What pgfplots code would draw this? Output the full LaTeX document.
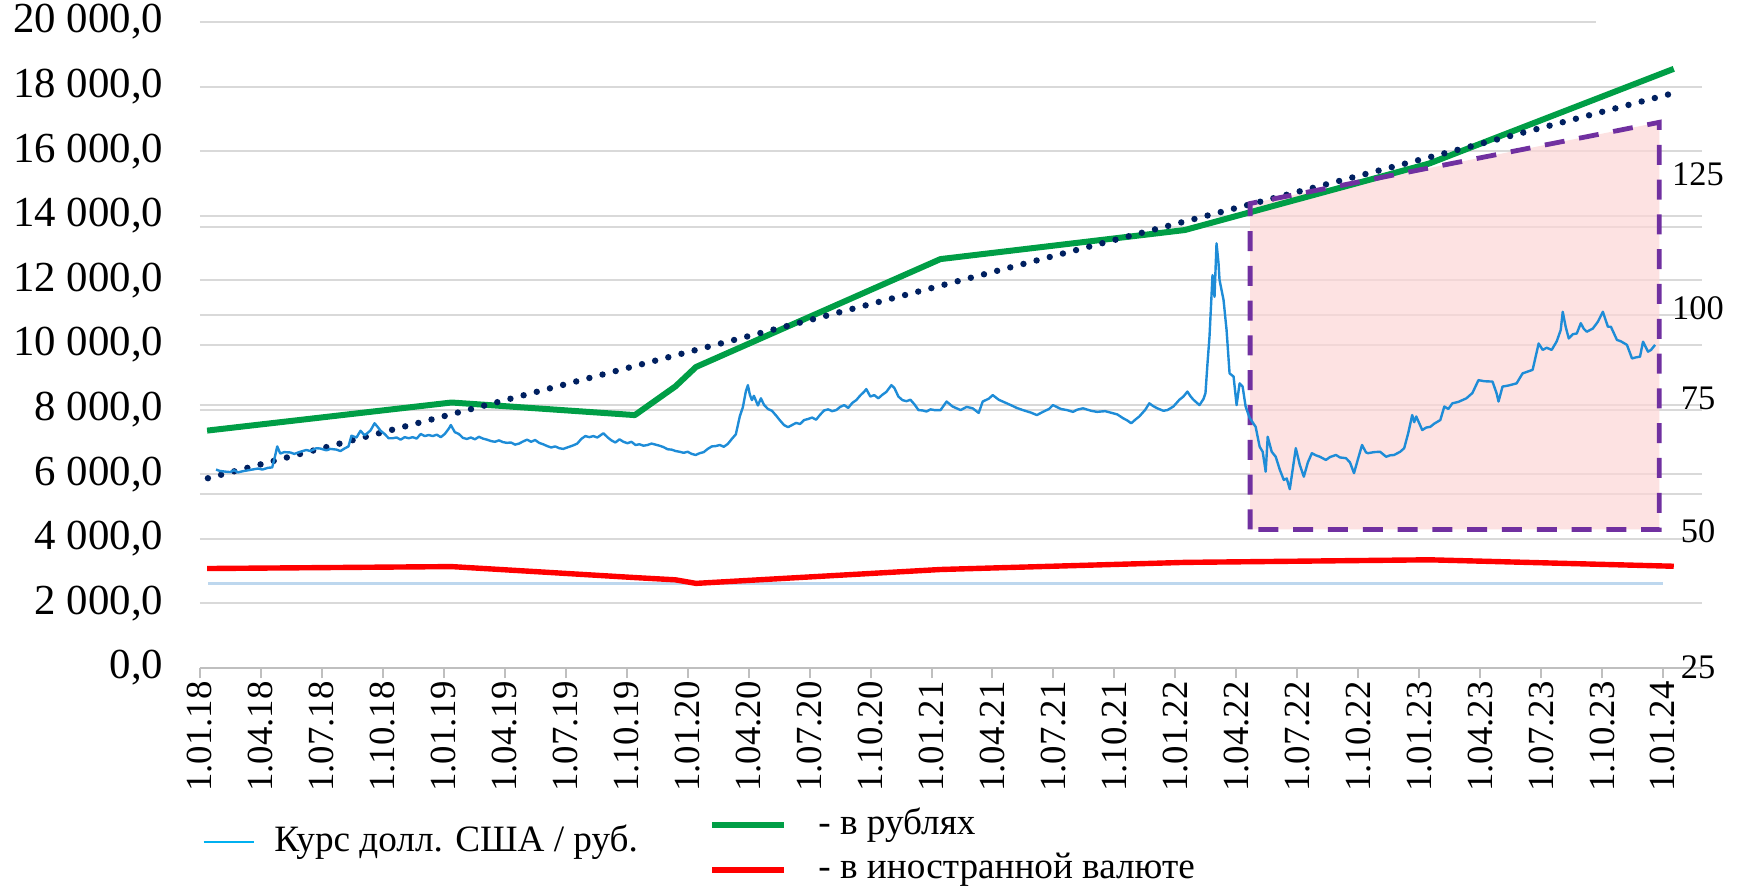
\documentclass[border=0pt]{standalone}
\usepackage{pgfplots}
\pgfplotsset{compat=1.18}
\usepackage{pgfplotstable}
\usepackage{fontspec}
\setmainfont{Liberation Serif}

\definecolor{gridgray}{RGB}{217,217,217}
\definecolor{axisgray}{RGB}{191,191,191}
\definecolor{rubgreen}{RGB}{0,158,70}
\definecolor{fxred}{RGB}{255,0,0}
\definecolor{usdblue}{RGB}{30,140,215}
\definecolor{legblue}{RGB}{0,176,240}
\definecolor{trendnavy}{RGB}{0,32,96}
\definecolor{boxpurple}{RGB}{112,48,160}
\definecolor{boxpink}{RGB}{252,214,214}
\definecolor{lightblueline}{RGB}{189,215,238}

% курс доллара, t = месяцы от 1.01.18
\pgfplotstableread{
t v
0.3 57.0
0.5 56.6
0.8 56.4
1.0 56.3
1.2 56.8
1.4 56.2
1.6 56.5
1.9 56.8
2.1 57.0
2.4 57.3
2.6 57.0
2.9 57.5
3.1 57.6
3.25 61.0
3.35 63.5
3.5 61.5
3.7 61.9
4.0 61.8
4.2 61.4
4.5 62.0
4.8 62.5
5.0 62.2
5.3 63.0
5.5 62.9
5.8 62.4
6.0 62.8
6.3 62.6
6.5 62.2
6.7 62.9
6.9 63.5
7.05 66.5
7.3 66.0
7.5 67.9
7.7 66.6
7.9 67.5
8.0 68.0
8.2 70.0
8.35 69.0
8.5 67.9
8.7 67.0
8.9 65.8
9.1 65.8
9.3 66.0
9.5 65.4
9.7 66.1
9.9 65.8
10.1 66.1
10.3 65.7
10.5 67.0
10.7 66.4
10.9 66.7
11.1 66.4
11.3 66.8
11.5 66.1
11.7 67.0
11.9 68.5
12.0 69.5
12.2 67.5
12.4 67.0
12.6 65.9
12.8 65.6
13.0 66.0
13.2 65.5
13.4 66.2
13.6 65.7
13.8 65.4
14.0 65.0
14.2 64.8
14.4 65.2
14.6 64.7
14.8 64.5
15.0 64.6
15.2 64.0
15.4 64.3
15.6 64.9
15.8 65.4
16.0 64.8
16.2 65.3
16.4 64.5
16.6 64.1
16.8 63.6
17.0 63.2
17.2 63.5
17.4 63.0
17.6 62.8
17.9 63.4
18.1 63.8
18.3 64.3
18.5 65.6
18.7 66.4
18.9 66.1
19.1 66.4
19.3 66.0
19.6 67.2
19.8 66.1
20.0 65.2
20.2 64.6
20.4 65.5
20.6 64.8
20.8 64.4
21.0 64.8
21.2 63.9
21.4 64.1
21.6 63.7
21.8 63.9
22.0 64.3
22.2 64.0
22.4 63.7
22.6 63.3
22.8 62.7
23.0 62.6
23.2 62.2
23.4 62.0
23.6 61.7
23.8 62.0
24.0 61.4
24.2 61.1
24.4 61.6
24.6 61.9
24.8 62.8
25.0 63.5
25.2 63.6
25.4 63.9
25.6 63.4
25.8 64.2
26.0 65.6
26.2 66.9
26.4 72.0
26.55 74.5
26.7 79.0
26.8 80.7
26.9 78.0
27.0 76.5
27.1 77.7
27.3 75.0
27.45 77.0
27.6 75.2
27.8 74.0
28.0 73.5
28.2 72.2
28.4 70.8
28.6 69.5
28.8 68.9
29.0 69.5
29.2 70.1
29.4 69.8
29.6 70.9
29.8 71.2
30.0 71.6
30.2 71.0
30.4 72.4
30.6 73.6
30.8 73.9
31.0 73.4
31.2 73.7
31.4 74.6
31.6 75.1
31.8 74.3
32.0 75.7
32.2 76.5
32.4 77.8
32.6 78.9
32.7 79.6
32.9 77.5
33.1 77.9
33.3 77.0
33.5 78.0
33.7 78.8
33.95 80.7
34.1 79.9
34.3 77.5
34.5 76.5
34.7 76.2
34.9 76.6
35.1 75.3
35.3 73.7
35.5 73.6
35.7 73.3
35.9 73.9
36.1 73.7
36.4 73.7
36.7 76.1
37.0 74.7
37.4 73.7
37.7 74.6
38.0 74.2
38.3 72.9
38.5 76.1
38.8 76.9
39.0 77.9
39.3 76.6
39.5 76.1
39.9 75.1
40.2 74.3
40.5 73.7
40.9 73.0
41.2 72.3
41.5 73.2
41.8 74.0
42.0 75.1
42.4 74.0
42.7 73.7
43.0 73.2
43.2 73.8
43.5 74.2
43.9 73.5
44.2 73.2
44.6 73.4
45.0 72.8
45.2 72.5
45.5 71.4
45.7 70.8
45.9 70.0
46.1 71.0
46.3 71.9
46.6 73.8
46.8 75.6
47.0 74.8
47.2 74.2
47.5 73.5
47.7 73.7
48.0 74.7
48.3 76.6
48.5 77.5
48.7 78.9
48.85 77.6
49.0 76.6
49.3 75.1
49.5 76.8
49.6 78.5
49.7 86.8
49.8 94.3
49.95 111.6
50.05 105.5
50.15 120.5
50.25 114.9
50.3 110.2
50.5 104.6
50.65 96.2
50.8 84.0
51.0 83.1
51.15 75.1
51.3 81.2
51.45 80.3
51.6 74.7
51.8 71.5
52.1 69.0
52.3 63.4
52.45 62.0
52.6 56.4
52.7 66.2
52.9 62.0
53.1 60.6
53.3 57.0
53.5 54.1
53.65 54.5
53.8 51.5
54.1 63.0
54.3 58.3
54.5 55.0
54.7 59.0
54.9 61.6
55.1 61.0
55.3 60.6
55.6 59.7
55.8 60.5
56.1 61.1
56.3 60.4
56.6 60.2
56.8 59.0
57.0 56.0
57.2 60.0
57.4 63.9
57.6 61.8
57.7 61.6
58.0 61.9
58.3 62.0
58.6 60.6
58.8 61.0
59.0 61.1
59.3 62.0
59.5 63.0
59.7 67.2
59.9 72.3
60.0 70.3
60.1 71.9
60.4 68.1
60.6 68.8
60.8 69.0
61.0 69.9
61.3 70.9
61.5 74.7
61.7 74.0
61.9 75.6
62.2 76.0
62.6 77.0
62.9 78.5
63.2 82.1
63.5 81.8
63.9 81.7
64.1 78.5
64.2 76.1
64.4 80.3
64.7 80.6
65.1 81.2
65.4 84.0
65.7 84.6
65.9 85.0
66.2 92.4
66.4 90.6
66.6 91.2
66.85 90.6
67.1 93.0
67.3 96.2
67.4 101.3
67.55 97.0
67.7 93.8
67.9 95.0
68.1 95.2
68.3 98.1
68.45 96.5
68.6 95.7
68.9 96.6
69.15 98.5
69.4 101.3
69.65 97.1
69.8 97.1
70.1 93.4
70.3 93.0
70.6 92.0
70.85 88.2
71.05 88.5
71.25 88.7
71.4 92.9
71.65 90.1
71.8 90.6
72.0 92.0
}\usdrub

\begin{document}
\begin{tikzpicture}[x=1pt,y=1pt]
\useasboundingbox (-50,-55.75) rectangle (386,167);

% основная ось: средства в рублях и в валюте
\begin{axis}[
  at={(0,0)}, anchor=south west,
  scale only axis, width=375.5pt, height=161.5pt,
  xmin=0, xmax=73.92, ymin=0, ymax=20000,
  clip=false,
  axis x line*=bottom, axis y line*=left,
  x axis line style={axisgray, line width=0.5pt, -},
  y axis line style={draw=none},
  xtick={0,3,...,72},
  xticklabels={1.01.18,1.04.18,1.07.18,1.10.18,1.01.19,1.04.19,1.07.19,1.10.19,
    1.01.20,1.04.20,1.07.20,1.10.20,1.01.21,1.04.21,1.07.21,1.10.21,
    1.01.22,1.04.22,1.07.22,1.10.22,1.01.23,1.04.23,1.07.23,1.10.23,1.01.24},
  xtick align=outside, major tick length=2.5pt,
  xtick style={axisgray, line width=0.5pt},
  xticklabel style={font=\fontsize{9.2}{11}\selectfont, rotate=90, anchor=east, inner sep=0.6pt},
  ytick={0,2000,...,20000},
  ytick style={draw=none},
  ymajorgrids,
  grid style={gridgray, line width=0.5pt},
  extra y ticks={5380,8155,10915,13665},
  extra y tick labels={},
  extra y tick style={grid=major, ytick style={draw=none}},
  scaled y ticks=false,
  yticklabel style={font=\fontsize{10.7}{12}\selectfont, anchor=east, inner sep=0pt, xshift=-9pt},
  y tick label style={/pgf/number format/.cd, fixed, fixed zerofill, precision=1,
    use comma, 1000 sep={\ }, assume math mode=true},
]
\addplot[draw=none, fill=boxpink, fill opacity=0.7]
  coordinates {(51.68,4291) (51.68,14381) (71.82,16895) (71.82,4291)} -- cycle;
\addplot[white, line width=1.5pt] coordinates {(68.7,20000) (73.92,20000)};
\addplot[lightblueline, line width=0.6pt] coordinates {(0.4,2620) (72,2620)};
\addplot[fxred, line width=1.35pt, line join=round] coordinates {
  (0.35,3080) (12.38,3140) (21.4,2800) (23.4,2730) (24.41,2620)
  (36.44,3050) (48.47,3270) (60.5,3350) (72.53,3150)};
\addplot[rubgreen, line width=1.5pt, line join=round] coordinates {
  (0.35,7350) (12.38,8220) (21.4,7830) (23.4,8720) (24.41,9320)
  (36.44,12660) (48.47,13560) (60.5,15620) (72.53,18550)};
\addplot[trendnavy, line width=1.6pt, line cap=round, dash pattern=on 0pt off 3.4pt]
  coordinates {(0.39,5876) (72.25,17755)};
\addplot[boxpurple, line width=1.2pt, dash pattern=on 5pt off 3.7pt]
  coordinates {(51.68,4291) (51.68,14381) (71.82,16895) (71.82,4291)} -- cycle;
\end{axis}

% вторая ось: курс доллара
\begin{axis}[
  at={(0,0)}, anchor=south west,
  scale only axis, width=375.5pt, height=161.5pt,
  xmin=-0.498, xmax=74.34, ymin=1.29, ymax=182.65,
  axis x line=none,
  axis y line*=right,
  y axis line style={draw=none},
  ytick={1.45,39.75,77.1,102.2,139.8},
  yticklabels={25,50,75,100,125},
  ytick style={draw=none},
  yticklabel style={font=\fontsize{8.6}{10}\selectfont, anchor=center, xshift=-1pt},
]
\addplot[usdblue, line width=0.6pt, line join=round] table[x=t, y=v] {\usdrub};
\end{axis}

% легенда
\draw[legblue, line width=0.6pt] (0.9,-43.5) -- (13.4,-43.5);
\node[anchor=mid west, inner sep=0pt, font=\fontsize{9.3}{11}\selectfont] at (18.4,-43.5) {Курс долл. США / руб.};
\draw[rubgreen, line width=1.5pt] (128,-39.3) -- (146,-39.3);
\node[anchor=mid west, inner sep=0pt, font=\fontsize{9.3}{11}\selectfont] at (154.4,-39.3) {- в рублях};
\draw[fxred, line width=1.5pt] (128,-50.4) -- (146,-50.4);
\node[anchor=mid west, inner sep=0pt, font=\fontsize{9.3}{11}\selectfont] at (154.4,-50.4) {- в иностранной валюте};
\end{tikzpicture}
\end{document}
